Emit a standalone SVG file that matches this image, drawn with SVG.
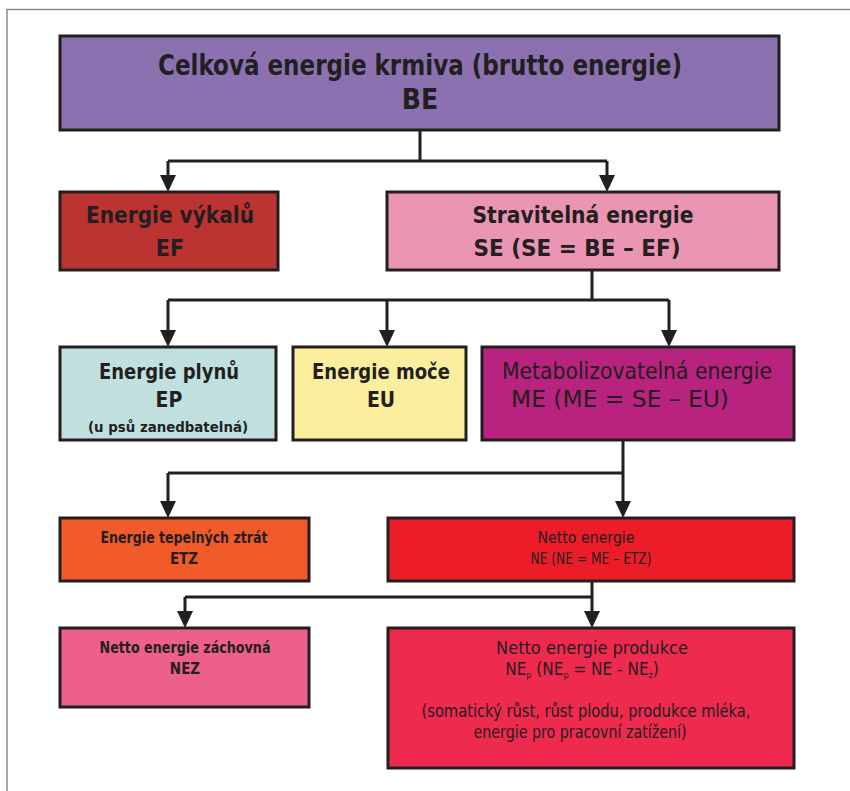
<svg xmlns="http://www.w3.org/2000/svg" width="850" height="791" viewBox="0 0 850 791">
<style>
.box{stroke:#231f20;stroke-width:3}
.t{font-family:"Liberation Sans Narrow","DejaVu Sans Condensed","Liberation Sans",sans-serif;fill:#231f20;text-anchor:middle}
.b{font-weight:bold}
.c{fill:none;stroke:#231f20;stroke-width:3}
.ah{fill:#231f20}
</style>
<rect x="7" y="9.5" width="860" height="800" fill="#fff" stroke="#8a8a8a" stroke-width="1.5"/>
<g id="connectors">
<path class="c" d="M420,130 V161 M168,161 H607 M168,161 V176 M607,161 V176"/>
<path class="c" d="M592,270 V300 M168,300 H669 M168,300 V331 M387,300 V331 M669,300 V331"/>
<path class="c" d="M623,440 V473 M168,473 H623 M168,473 V502 M623,473 V502"/>
<path class="c" d="M592,581 V597 M185,597 H592 M185,597 V612 M592,597 V612"/>
<path class="ah" d="M160,175 L176,175 L168,192 Z"/>
<path class="ah" d="M599,175 L615,175 L607,192 Z"/>
<path class="ah" d="M160,330 L176,330 L168,347 Z"/>
<path class="ah" d="M379,330 L395,330 L387,347 Z"/>
<path class="ah" d="M661,330 L677,330 L669,347 Z"/>
<path class="ah" d="M160,501 L176,501 L168,518 Z"/>
<path class="ah" d="M615,501 L631,501 L623,518 Z"/>
<path class="ah" d="M177,611 L193,611 L185,628 Z"/>
<path class="ah" d="M584,611 L600,611 L592,628 Z"/>
</g>
<g id="be">
<rect class="box" x="60" y="36" width="719" height="94" fill="#8b71b0"/>
<text class="t b" x="420" y="75" font-size="28" textLength="524" lengthAdjust="spacingAndGlyphs">Celková energie krmiva (brutto energie)</text>
<text class="t b" x="420" y="109" font-size="28">BE</text>
</g>
<g id="ef">
<rect class="box" x="60" y="192" width="218" height="78" fill="#bc3431"/>
<text class="t b" x="170" y="223" font-size="23" textLength="168" lengthAdjust="spacingAndGlyphs">Energie výkalů</text>
<text class="t b" x="170" y="256" font-size="23">EF</text>
</g>
<g id="se">
<rect class="box" x="387" y="192" width="392" height="78" fill="#ea95b4"/>
<text class="t b" x="583" y="223" font-size="23" textLength="221" lengthAdjust="spacingAndGlyphs">Stravitelná energie</text>
<text class="t b" x="577" y="256" font-size="23" textLength="207" lengthAdjust="spacingAndGlyphs">SE (SE = BE – EF)</text>
</g>
<g id="ep">
<rect class="box" x="60" y="347" width="216" height="93" fill="#c0e0e0"/>
<text class="t b" x="169" y="379" font-size="21" textLength="140" lengthAdjust="spacingAndGlyphs">Energie plynů</text>
<text class="t b" x="169" y="407" font-size="21">EP</text>
<text class="t b" x="168" y="432" font-size="14" textLength="160" lengthAdjust="spacingAndGlyphs">(u psů zanedbatelná)</text>
</g>
<g id="eu">
<rect class="box" x="293" y="347" width="173" height="93" fill="#fcee9f"/>
<text class="t b" x="381" y="379" font-size="21" textLength="138" lengthAdjust="spacingAndGlyphs">Energie moče</text>
<text class="t b" x="381" y="407" font-size="21">EU</text>
</g>
<g id="me">
<rect class="box" x="482" y="347" width="312" height="93" fill="#b8237f"/>
<text class="t" x="637" y="379" font-size="23" textLength="270" lengthAdjust="spacingAndGlyphs">Metabolizovatelná energie</text>
<text class="t" x="620" y="407" font-size="23" textLength="218" lengthAdjust="spacingAndGlyphs">ME (ME = SE – EU)</text>
</g>
<g id="etz">
<rect class="box" x="60" y="518" width="249" height="63" fill="#f15a29"/>
<text class="t b" x="184" y="543" font-size="15" textLength="167" lengthAdjust="spacingAndGlyphs">Energie tepelných ztrát</text>
<text class="t b" x="184" y="564" font-size="15">ETZ</text>
</g>
<g id="ne">
<rect class="box" x="388" y="518" width="406" height="63" fill="#ed1c29"/>
<text class="t" x="586" y="543" font-size="15" textLength="97" lengthAdjust="spacingAndGlyphs">Netto energie</text>
<text class="t" x="591" y="564" font-size="15" textLength="121" lengthAdjust="spacingAndGlyphs">NE (NE = ME – ETZ)</text>
</g>
<g id="nez">
<rect class="box" x="60" y="628" width="249" height="79" fill="#ec608a"/>
<text class="t b" x="185" y="653" font-size="15" textLength="171" lengthAdjust="spacingAndGlyphs">Netto energie záchovná</text>
<text class="t b" x="185" y="674" font-size="15">NEZ</text>
</g>
<g id="nep">
<rect class="box" x="388" y="628" width="406" height="140" fill="#ee2a4f"/>
<text class="t" x="592" y="654" font-size="17" textLength="192" lengthAdjust="spacingAndGlyphs">Netto energie produkce</text>
<text class="t" x="582" y="675" font-size="17">NE<tspan font-size="9" dy="3">p</tspan><tspan dy="-3"> (NE</tspan><tspan font-size="9" dy="3">p</tspan><tspan dy="-3"> = NE - NE</tspan><tspan font-size="9" dy="3">z</tspan><tspan dy="-3">)</tspan></text>
<text class="t" x="586" y="717" font-size="17" textLength="329" lengthAdjust="spacingAndGlyphs">(somatický růst, růst plodu, produkce mléka,</text>
<text class="t" x="580" y="738" font-size="17" textLength="213" lengthAdjust="spacingAndGlyphs">energie pro pracovní zatížení)</text>
</g>
</svg>
